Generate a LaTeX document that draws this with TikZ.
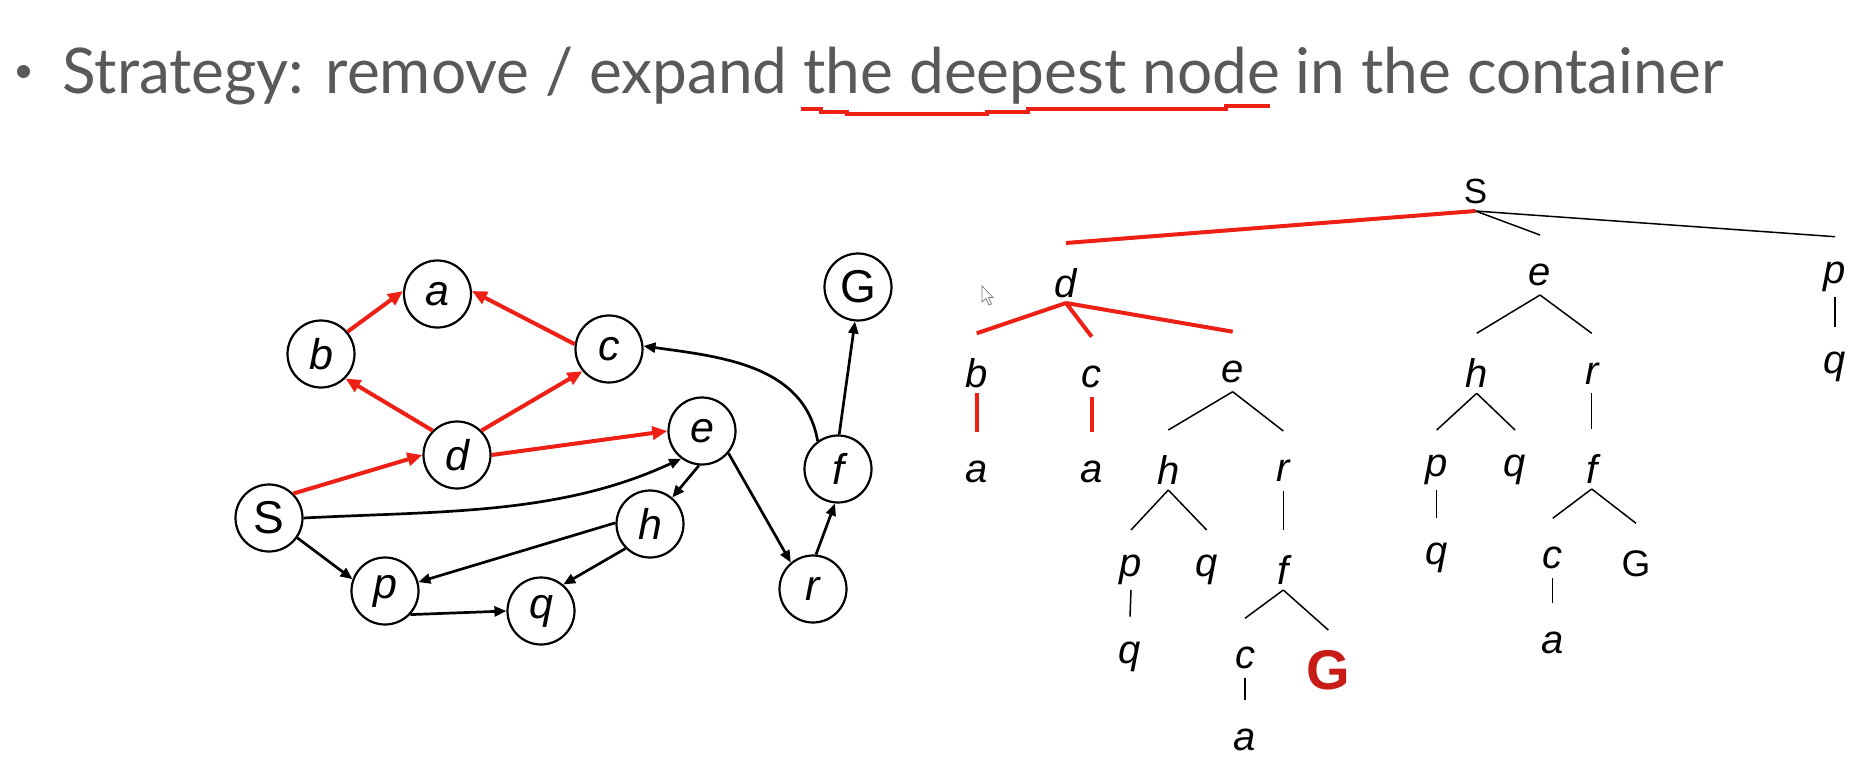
\documentclass[tikz,border=0pt]{standalone}
\usepackage{fontspec}
\usepackage{graphicx}
\setmainfont{Liberation Sans}
\newfontfamily\titlefont{Lato}
\usetikzlibrary{arrows.meta,calc}
\definecolor{titlegray}{RGB}{89,89,89}
\definecolor{pathred}{RGB}{238,32,22}
\definecolor{goalred}{RGB}{200,28,22}
\begin{document}
\begin{tikzpicture}[x=0.5pt,y=0.5pt,
  gnode/.style={draw, circle, line width=1.1pt, minimum size=33.5pt, inner sep=0pt,
    font=\fontsize{21.5}{22}\selectfont\itshape},
  bignode/.style={gnode, font=\fontsize{23}{24}\selectfont},
  redarc/.style={draw=pathred, line width=2pt, -{Triangle[length=7.5pt,width=6.5pt]}},
  blackarc/.style={line width=1.35pt, -{Triangle[length=6pt,width=5pt]}},
  tlabel/.style={inner sep=0pt, font=\fontsize{20}{20}\selectfont\itshape},
  tline/.style={line width=0.75pt},
  tred/.style={draw=pathred, line width=2pt}]
\fill[white] (0,0) rectangle (1870,-776);
\useasboundingbox (0,0) rectangle (1870,-776);

% heading
\node[circle, fill=titlegray, inner sep=0pt, minimum size=6.5pt] (bullet) at (23.5,-71.5) {};
\node[anchor=base west, inner sep=0pt, text=titlegray] (title) at (62,-93)
  {\resizebox{830.5pt}{\height}{\titlefont\fontsize{31.5}{32}\selectfont Strategy: remove / expand the deepest node in the container}};
\draw[pathred, line width=1.8pt] (801,-109) -- (821,-109) -- (821,-112) -- (847,-112) -- (847,-114)
  -- (987,-114) -- (987,-112) -- (1028,-112) -- (1028,-109) -- (1226,-109) -- (1226,-106) -- (1270,-106);

% state space graph
\node[bignode] (S) at (269,-518) {S};
\node[gnode] (a) at (437.5,-294) {a};
\node[gnode] (b) at (321,-354) {b};
\node[gnode] (c) at (609,-349) {c};
\node[gnode] (d) at (457,-455) {d};
\node[gnode] (e) at (702,-431) {e};
\node[gnode] (h) at (650,-524) {h};
\node[gnode] (p) at (385,-591) {p};
\node[gnode] (q) at (541,-611) {q};
\node[gnode] (f) at (838,-469) {f};
\node[gnode] (r) at (813,-589) {r};
\node[bignode] (G) at (858,-287) {G};

\draw[redarc] (S.45) -- (d.west);
\draw[redarc] (d.135) -- (b.-45);
\draw[redarc] (d.45) -- (c.220);
\draw[redarc] (b.40) -- (a.175);
\draw[redarc] (c.172) -- (a.5);
\draw[redarc] (d.east) -- (e.west);

\draw[blackarc] (S.east) to[out=3, in=205, looseness=0.9] (e.233);
\draw[blackarc] (S.-35) -- (p.160);
\draw[blackarc] (p.-43) -- (q.west);
\draw[blackarc] (h.178) -- (p.15);
\draw[blackarc] (h.225) -- (q.50);
\draw[blackarc] (e.265) -- (h.50);
\draw[blackarc] (e.-40) -- (r.130);
\draw[blackarc] (r.85) -- (f.265);
\draw[blackarc] (f.88) -- (G.265);
\draw[blackarc] (f.126) to[out=100, in=-8] (c.5);

% search tree
\node[inner sep=0pt, font=\fontsize{17.5}{18}\selectfont] (tS) at (1475.5,-191) {S};
\node[tlabel] (td) at (1066,-283) {d};
\node[tlabel] (te) at (1540,-275) {e};
\node[tlabel] (tp) at (1835,-276.7) {p};
\node[tlabel] (tdb) at (976.7,-373.3) {b};
\node[tlabel] (tdc) at (1091.7,-376.7) {c};
\node[tlabel] (tde) at (1232.7,-371.7) {e};
\node[tlabel] (teh) at (1476.7,-373.3) {h};
\node[tlabel] (ter) at (1591.7,-373.3) {r};
\node[tlabel] (tpq) at (1835,-366.7) {q};
\node[tlabel] (tdba) at (976.7,-471.7) {a};
\node[tlabel] (tdca) at (1091.7,-471.7) {a};
\node[tlabel] (tdeh) at (1168.3,-470) {h};
\node[tlabel] (tder) at (1283.3,-471) {r};
\node[tlabel] (tehp) at (1436.7,-470) {p};
\node[tlabel] (tehq) at (1515,-470) {q};
\node[tlabel] (terf) at (1591.7,-469) {f};
\node[tlabel] (tdehp) at (1131,-570) {p};
\node[tlabel] (tdehq) at (1206.7,-570) {q};
\node[tlabel] (tderf) at (1283.3,-570) {f};
\node[tlabel] (tehpq) at (1436.7,-558.3) {q};
\node[tlabel] (terfc) at (1552.7,-558.3) {c};
\node[inner sep=0pt, font=\fontsize{18.5}{18}\selectfont] (terfG) at (1636,-563.3) {G};
\node[tlabel] (tdehpq) at (1130,-656.7) {q};
\node[tlabel] (tderfc) at (1245,-658.3) {c};
\node[inner sep=0pt, text=goalred, font=\fontsize{28}{28}\selectfont\bfseries] (tderfG) at (1328.3,-670) {G};
\node[tlabel] (terfca) at (1552.7,-643.3) {a};
\node[tlabel] (tderfca) at (1245,-740) {a};

\newcommand{\treelink}[3][tline]{\draw[#1] ($(#2)+(0,-20)$) -- ($(#3)+(0,40)$);}
\treelink[tred]{tS}{td}
\treelink{tS}{te}
\treelink{tS}{tp}
\treelink[tred]{td}{tdb}
\treelink[tred]{td}{tdc}
\treelink[tred]{td}{tde}
\treelink{te}{teh}
\treelink{te}{ter}
\treelink{tp}{tpq}
\treelink[tred]{tdb}{tdba}
\treelink[tred]{tdc}{tdca}
\treelink{tde}{tdeh}
\treelink{tde}{tder}
\treelink{teh}{tehp}
\treelink{teh}{tehq}
\treelink{ter}{terf}
\treelink{tdeh}{tdehp}
\treelink{tdeh}{tdehq}
\treelink{tder}{tderf}
\treelink{tehp}{tehpq}
\treelink{terf}{terfc}
\treelink{terf}{terfG}
\treelink{tdehp}{tdehpq}
\treelink{tderf}{tderfc}
\treelink{tderf}{tderfG}
\treelink{terfc}{terfca}
\treelink{tderfc}{tderfca}

% mouse pointer
\draw[gray, line width=0.4pt, fill=white] (982,-286) -- (982,-302) -- (986,-298.5) -- (989,-305)
  -- (991.5,-304) -- (988.5,-297.5) -- (993,-297.5) -- cycle;
\end{tikzpicture}
\end{document}
